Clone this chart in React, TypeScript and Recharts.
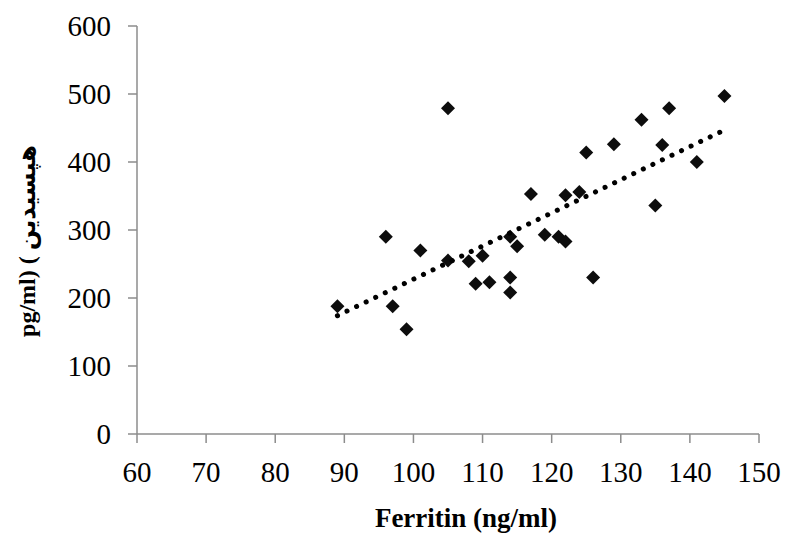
import { ScatterChart, Scatter, XAxis, YAxis } from 'recharts'

const ferritin = [105, 145, 137, 133, 129, 136, 125, 141, 117, 122, 124, 135, 96, 114, 119, 121, 122, 115, 101, 110, 105, 108, 114, 126, 109, 111, 114, 89, 97, 99]
const hepcidin = [479, 497, 479, 462, 426, 425, 414, 400, 353, 351, 356, 336, 290, 290, 293, 290, 283, 276, 270, 262, 255, 254, 230, 230, 221, 223, 208, 188, 188, 154]

// trendline end points
const trendX = [89, 145]
const trendY = [174, 447]

const xTicks = [60, 70, 80, 90, 100, 110, 120, 130, 140, 150]
const yTicks = [0, 100, 200, 300, 400, 500, 600]

const points = ferritin.map((x, i) => ({ x, y: hepcidin[i] }))
const trend = trendX.map((x, i) => ({ x, y: trendY[i] }))

const font = '"Liberation Serif", "Times New Roman", "DejaVu Sans", serif'

const Diamond = (props: any) => {
  const { cx, cy } = props
  const r = 7
  return <path d={`M${cx},${cy - r}L${cx + r},${cy}L${cx},${cy + r}L${cx - r},${cy}Z`} fill="#0d0d0d" />
}

const XTitle = () => (
  <text x={466} y={527} textAnchor="middle" fontFamily={font} fontWeight="bold" fontSize={27} fill="#000">
    Ferritin (ng/ml)
  </text>
)

const YTitle = () => (
  <text
    x={27}
    y={241}
    transform="rotate(-90 27 241)"
    textAnchor="middle"
    dominantBaseline="central"
    fontFamily={font}
    fontWeight="bold"
    fontSize={24}
    fill="#000"
  >
    {'pg/ml) ( هپسیدین'}
  </text>
)

export default function App() {
  const tick = { fontFamily: font, fontSize: 29, fill: '#000' }
  return (
    <div style={{ position: 'absolute', left: 0, top: 0, width: 785, height: 537, background: '#fff' }}>
      <ScatterChart width={785} height={537} margin={{ top: 26, right: 26, bottom: 43, left: 0 }}>
        <XAxis
          type="number"
          dataKey="x"
          domain={[60, 150]}
          ticks={xTicks}
          interval={0}
          height={60}
          tick={tick}
          tickSize={9}
          tickMargin={18}
          axisLine={{ stroke: '#8c8c8c', strokeWidth: 1.5 }}
          tickLine={{ stroke: '#8c8c8c', strokeWidth: 1.5 }}
          label={<XTitle />}
        />
        <YAxis
          type="number"
          dataKey="y"
          domain={[0, 600]}
          ticks={yTicks}
          interval={0}
          width={137}
          tick={tick}
          tickSize={9}
          tickMargin={17}
          axisLine={{ stroke: '#8c8c8c', strokeWidth: 1.5 }}
          tickLine={{ stroke: '#8c8c8c', strokeWidth: 1.5 }}
          label={<YTitle />}
        />
        <Scatter data={points} shape={<Diamond />} isAnimationActive={false} />
        <Scatter
          data={trend}
          shape={() => <g />}
          line={{ stroke: '#000', strokeWidth: 5, strokeDasharray: '0.1 10.5', strokeLinecap: 'round' }}
          isAnimationActive={false}
        />
      </ScatterChart>
    </div>
  )
}
